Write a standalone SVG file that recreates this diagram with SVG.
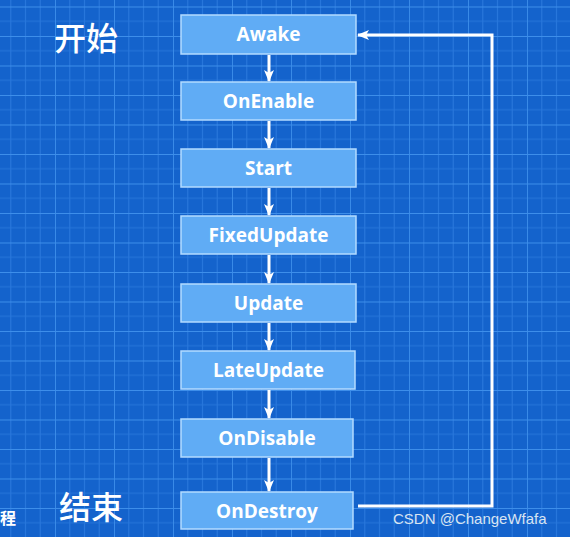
<svg xmlns="http://www.w3.org/2000/svg" width="570" height="537" viewBox="0 0 570 537">
<defs>
<pattern id="grid" x="55" y="6.5" width="59" height="29.5" patternUnits="userSpaceOnUse">
<rect width="59" height="29.5" fill="#1463cc"/>
<path d="M14.75 0V29.5M29.5 0V29.5M44.25 0V29.5M0 14.75H59" stroke="#2776db" stroke-width="1.2" fill="none"/>
<path d="M0 0V29.5M0 0H59" stroke="#3d8eea" stroke-width="1.8" fill="none"/>
</pattern>
<marker id="ah" viewBox="0 0 12 10" refX="11" refY="5" markerWidth="12" markerHeight="10" markerUnits="userSpaceOnUse" orient="auto">
<path d="M0 0L12 5L0 10L3 5Z" fill="#ffffff"/>
</marker>
<style>
.box rect{fill:#60acf5;stroke:#b3dbff;stroke-width:1.5}
.box text{font-family:"Open Sans","Liberation Sans",sans-serif;font-weight:bold;font-size:19px;fill:#ffffff;text-anchor:middle}
.lbl{font-family:"Noto Sans CJK SC",sans-serif;font-weight:500;font-size:32px;fill:#ffffff}
.conn line,.conn path{stroke:#ffffff;stroke-width:3;fill:none}
</style>
</defs>
<rect width="570" height="537" fill="url(#grid)"/>
<text class="lbl" x="54" y="50">开始</text>
<text class="lbl" x="59" y="519">结束</text>
<text x="0" y="524" font-family="Noto Sans CJK SC,sans-serif" font-weight="bold" font-size="16" fill="#ffffff">程</text>
<g id="awake" class="box"><rect x="181" y="15" width="175" height="39"/><text x="268.5" y="41">Awake</text></g>
<g id="onenable" class="box"><rect x="181" y="82" width="175" height="38"/><text x="268.5" y="107.5">OnEnable</text></g>
<g id="start" class="box"><rect x="181" y="149" width="175" height="38"/><text x="268.5" y="174.5">Start</text></g>
<g id="fixedupdate" class="box"><rect x="181" y="216" width="175" height="38"/><text x="268.5" y="241.5">FixedUpdate</text></g>
<g id="update" class="box"><rect x="181" y="284" width="175" height="38"/><text x="268.5" y="309.5">Update</text></g>
<g id="lateupdate" class="box"><rect x="181" y="351" width="174" height="38"/><text x="268.5" y="376.5">LateUpdate</text></g>
<g id="ondisable" class="box"><rect x="181" y="419" width="172" height="38"/><text x="267" y="444.5">OnDisable</text></g>
<g id="ondestroy" class="box"><rect x="181" y="492" width="172" height="37"/><text x="267" y="517.5">OnDestroy</text></g>
<g id="connectors" class="conn">
<line x1="269" y1="55" x2="269" y2="81" marker-end="url(#ah)"/>
<line x1="269" y1="121" x2="269" y2="148" marker-end="url(#ah)"/>
<line x1="269" y1="188" x2="269" y2="215" marker-end="url(#ah)"/>
<line x1="269" y1="255" x2="269" y2="283" marker-end="url(#ah)"/>
<line x1="269" y1="323" x2="269" y2="350" marker-end="url(#ah)"/>
<line x1="269" y1="390" x2="269" y2="418" marker-end="url(#ah)"/>
<line x1="269" y1="458" x2="269" y2="491" marker-end="url(#ah)"/>
<path d="M358 506H492V35H358" marker-end="url(#ah)"/>
</g>
<text x="393" y="524" font-family="Liberation Sans,sans-serif" font-size="15" fill="#d8e4f2">CSDN @ChangeWfafa</text>
</svg>
